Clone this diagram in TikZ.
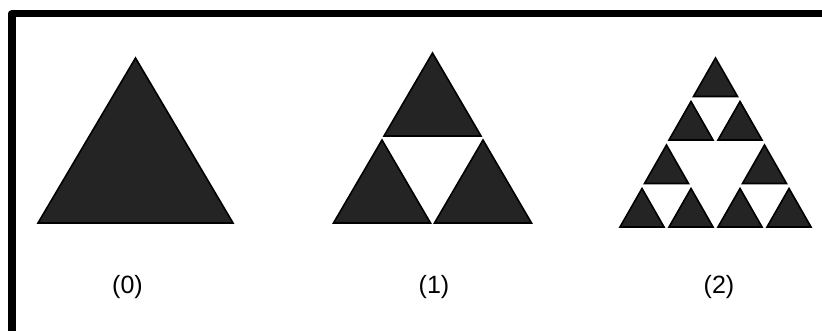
\documentclass[tikz,border=0pt]{standalone}
\usepackage{fontspec}
\setmainfont{Liberation Sans}
\definecolor{trifill}{RGB}{36,36,36}
\tikzset{
  tri/.style={fill=trifill, draw=black, line width=1.6pt, line join=miter},
  frameline/.style={draw=black, line width=7.5pt, line join=round},
  lbl/.style={font=\fontsize{25}{25}\selectfont, inner sep=0pt}
}
\newcommand\sierptri[4]{\path[tri] (#1,#2) -- ++(#3,#4) -- ++({-2*#3},0) -- cycle;}
\begin{document}
\begin{tikzpicture}[x=1pt,y=-1pt]
\useasboundingbox (0,0) rectangle (822,331);
\clip (0,0) rectangle (822,331);
\fill[white] (0,0) rectangle (822,331);
% frame
\coordinate (fb) at (11.75,345);
\coordinate (fc) at (11.75,13.75);
\coordinate (fr) at (840,13.75);
\draw[frameline] (fb) -- (fc) -- (fr);
% level 0
\sierptri{135.5}{58}{97.5}{165}
% level 1
\sierptri{432.5}{53}{48.5}{83}
\sierptri{382}{140}{48.5}{83}
\sierptri{483}{140}{48.5}{83}
% level 2
\sierptri{715.5}{58}{22}{38.5}
\sierptri{691}{101.5}{22}{38.5}
\sierptri{740}{101.5}{22}{38.5}
\sierptri{666.5}{145}{22}{38.5}
\sierptri{764.5}{145}{22}{38.5}
\sierptri{642}{188.5}{22}{38.5}
\sierptri{691}{188.5}{22}{38.5}
\sierptri{740}{188.5}{22}{38.5}
\sierptri{789}{188.5}{22}{38.5}
% labels
\node[lbl] (l0) at (127.5,287) {(0)};
\node[lbl] (l1) at (434,287) {(1)};
\node[lbl] (l2) at (719,287) {(2)};
\end{tikzpicture}
\end{document}
